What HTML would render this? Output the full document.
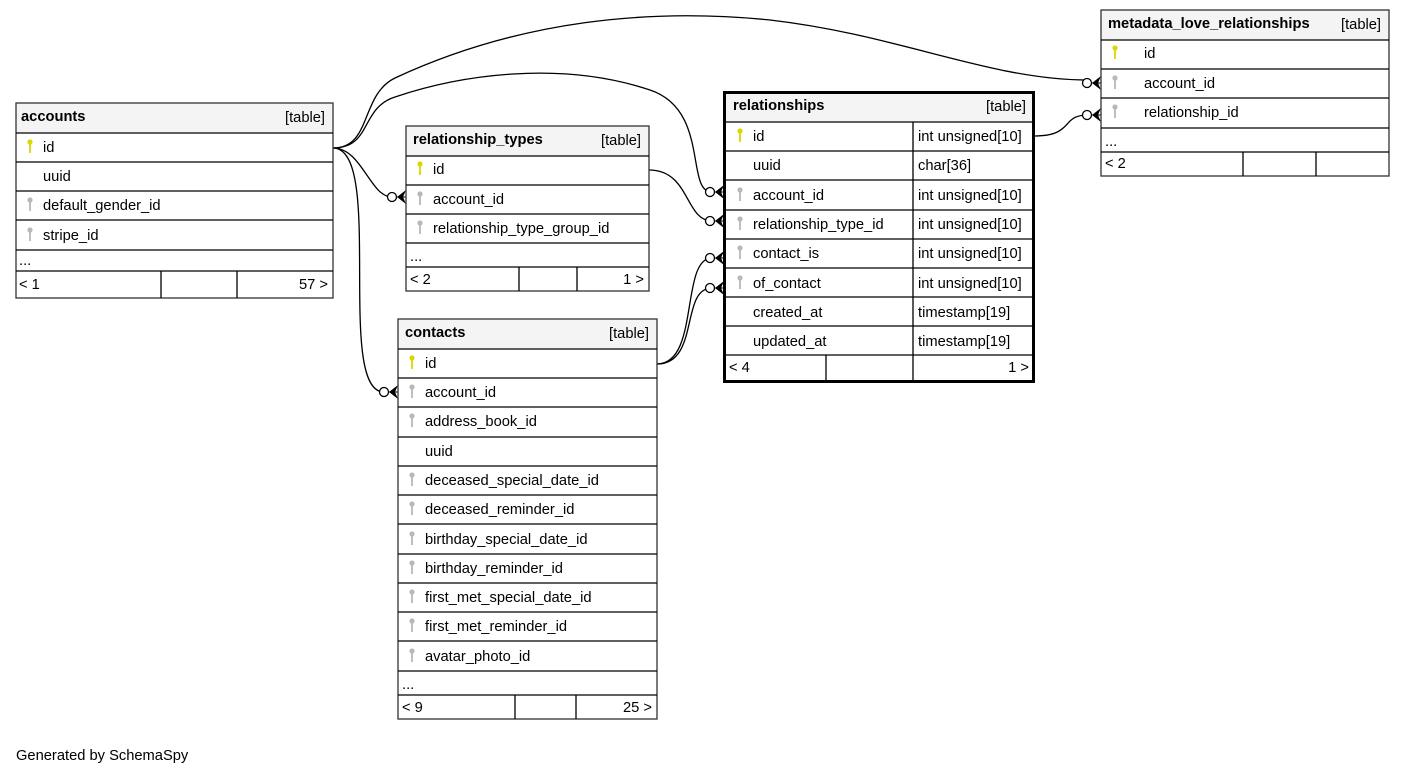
<!DOCTYPE html>
<html><head><meta charset="utf-8"><style>
body{margin:0;background:#fff;width:1405px;height:775px;overflow:hidden}
svg text{font-family:"Liberation Sans",sans-serif;font-size:14.7px;fill:#000}
.b{font-weight:bold}
.hd{fill:#f4f4f4}
.ln{stroke:#000;stroke-width:1.3;fill:none}
</style></head><body>
<svg width="1405" height="775" xmlns="http://www.w3.org/2000/svg">
<defs>
<g id="kp"><circle cx="0" cy="-4" r="2.6" fill="#d8d800"/><rect x="-0.9" y="-3" width="1.8" height="10" fill="#d8d800"/></g>
<g id="kf"><circle cx="0" cy="-4" r="2.6" fill="#b8b8b8"/><rect x="-0.9" y="-3" width="1.8" height="10" fill="#b8b8b8"/></g>
<g id="cf"><circle cx="-14" cy="0" r="4.5" fill="#fff" stroke="#000" stroke-width="1.3"/><polygon points="-9,0 0,-7 -3,0 0,7" fill="#000"/><line x1="-9" y1="0" x2="0" y2="0" stroke="#000"/></g>
</defs>

<path class="ln" d="M333,148 C372,148 360,95 395,78 C520,20 650,8 770,20 C900,35 990,80 1088,80"/>
<path class="ln" d="M333,148 C372,148 360,108 395,97 C460,75 560,60 650,90 C710,110 685,192 712,192"/>
<path class="ln" d="M333,148 C362,148 370,197 392,197"/>
<path class="ln" d="M333,148 C385,148 335,392 384,392"/>
<path class="ln" d="M649,170 C690,170 685,221 712,221"/>
<path class="ln" d="M657,364 C700,364 680,258 712,258"/>
<path class="ln" d="M657,364 C700,364 680,288 712,288"/>
<path class="ln" d="M1034,136 C1075,136 1060,115 1088,115"/>
<use href="#cf" x="1101" y="83"/>
<use href="#cf" x="1101" y="115"/>
<use href="#cf" x="724" y="192"/>
<use href="#cf" x="724" y="221"/>
<use href="#cf" x="724" y="258"/>
<use href="#cf" x="724" y="288"/>
<use href="#cf" x="406" y="197"/>
<use href="#cf" x="398" y="392"/>

<g>
<rect x="16" y="103" width="317" height="30" class="hd"/>
<rect x="16" y="103" width="317" height="195" fill="none" stroke="#333" stroke-width="1.3"/>
<g stroke="#000" stroke-width="1.3"><line x1="16" y1="133" x2="333" y2="133"/><line x1="16" y1="162" x2="333" y2="162"/><line x1="16" y1="191" x2="333" y2="191"/><line x1="16" y1="220" x2="333" y2="220"/><line x1="16" y1="250" x2="333" y2="250"/><line x1="16" y1="271" x2="333" y2="271"/><line x1="161" y1="271" x2="161" y2="298"/><line x1="237" y1="271" x2="237" y2="298"/></g>
<text x="21" y="121" class="b">accounts</text><text x="325" y="122" text-anchor="end">[table]</text>
<use href="#kp" x="30" y="146"/><text x="43" y="152">id</text>
<text x="43" y="181">uuid</text>
<use href="#kf" x="30" y="204"/><text x="43" y="210">default_gender_id</text>
<use href="#kf" x="30" y="234"/><text x="43" y="240">stripe_id</text>
<text x="19" y="265">...</text>
<text x="19" y="289">&lt; 1</text><text x="328" y="289" text-anchor="end">57 &gt;</text>
</g>

<g>
<rect x="406" y="126" width="243" height="30" class="hd"/>
<rect x="406" y="126" width="243" height="165" fill="none" stroke="#333" stroke-width="1.3"/>
<g stroke="#000" stroke-width="1.3"><line x1="406" y1="156" x2="649" y2="156"/><line x1="406" y1="185" x2="649" y2="185"/><line x1="406" y1="214" x2="649" y2="214"/><line x1="406" y1="243" x2="649" y2="243"/><line x1="406" y1="267" x2="649" y2="267"/><line x1="519" y1="267" x2="519" y2="291"/><line x1="577" y1="267" x2="577" y2="291"/></g>
<text x="413" y="144" class="b">relationship_types</text><text x="641" y="145" text-anchor="end">[table]</text>
<use href="#kp" x="420" y="168"/><text x="433" y="174">id</text>
<use href="#kf" x="420" y="198"/><text x="433" y="204">account_id</text>
<use href="#kf" x="420" y="227"/><text x="433" y="233">relationship_type_group_id</text>
<text x="410" y="261">...</text>
<text x="410" y="284">&lt; 2</text><text x="644" y="284" text-anchor="end">1 &gt;</text>
</g>

<g>
<rect x="398" y="319" width="259" height="30" class="hd"/>
<rect x="398" y="319" width="259" height="400" fill="none" stroke="#333" stroke-width="1.3"/>
<g stroke="#000" stroke-width="1.3">
<line x1="398" y1="349" x2="657" y2="349"/><line x1="398" y1="378" x2="657" y2="378"/><line x1="398" y1="407" x2="657" y2="407"/><line x1="398" y1="437" x2="657" y2="437"/><line x1="398" y1="466" x2="657" y2="466"/><line x1="398" y1="495" x2="657" y2="495"/><line x1="398" y1="524" x2="657" y2="524"/><line x1="398" y1="554" x2="657" y2="554"/><line x1="398" y1="583" x2="657" y2="583"/><line x1="398" y1="612" x2="657" y2="612"/><line x1="398" y1="641" x2="657" y2="641"/><line x1="398" y1="671" x2="657" y2="671"/><line x1="398" y1="695" x2="657" y2="695"/><line x1="515" y1="695" x2="515" y2="719"/><line x1="576" y1="695" x2="576" y2="719"/></g>
<text x="405" y="337" class="b">contacts</text><text x="649" y="338" text-anchor="end">[table]</text>
<use href="#kp" x="412" y="362"/><text x="425" y="368">id</text>
<use href="#kf" x="412" y="391"/><text x="425" y="397">account_id</text>
<use href="#kf" x="412" y="420"/><text x="425" y="426">address_book_id</text>
<text x="425" y="456">uuid</text>
<use href="#kf" x="412" y="479"/><text x="425" y="485">deceased_special_date_id</text>
<use href="#kf" x="412" y="508"/><text x="425" y="514">deceased_reminder_id</text>
<use href="#kf" x="412" y="538"/><text x="425" y="544">birthday_special_date_id</text>
<use href="#kf" x="412" y="567"/><text x="425" y="573">birthday_reminder_id</text>
<use href="#kf" x="412" y="596"/><text x="425" y="602">first_met_special_date_id</text>
<use href="#kf" x="412" y="625"/><text x="425" y="631">first_met_reminder_id</text>
<use href="#kf" x="412" y="655"/><text x="425" y="661">avatar_photo_id</text>
<text x="402" y="689">...</text>
<text x="402" y="712">&lt; 9</text><text x="652" y="712" text-anchor="end">25 &gt;</text>
</g>

<g>
<rect x="724" y="92" width="310" height="30" class="hd"/>
<g stroke="#000" stroke-width="1.3">
<line x1="724" y1="122" x2="1034" y2="122"/><line x1="724" y1="151" x2="1034" y2="151"/><line x1="724" y1="180" x2="1034" y2="180"/><line x1="724" y1="210" x2="1034" y2="210"/><line x1="724" y1="239" x2="1034" y2="239"/><line x1="724" y1="268" x2="1034" y2="268"/><line x1="724" y1="297" x2="1034" y2="297"/><line x1="724" y1="326" x2="1034" y2="326"/><line x1="724" y1="355" x2="1034" y2="355"/><line x1="913" y1="122" x2="913" y2="382"/><line x1="826" y1="355" x2="826" y2="382"/></g>
<rect x="724.5" y="92.5" width="309" height="289" fill="none" stroke="#000" stroke-width="3"/>
<text x="733" y="110" class="b">relationships</text><text x="1026" y="111" text-anchor="end">[table]</text>
<use href="#kp" x="740" y="135"/><text x="753" y="141">id</text><text x="918" y="141">int unsigned[10]</text>
<text x="753" y="170">uuid</text><text x="918" y="170">char[36]</text>
<use href="#kf" x="740" y="194"/><text x="753" y="200">account_id</text><text x="918" y="200">int unsigned[10]</text>
<use href="#kf" x="740" y="223"/><text x="753" y="229">relationship_type_id</text><text x="918" y="229">int unsigned[10]</text>
<use href="#kf" x="740" y="252"/><text x="753" y="258">contact_is</text><text x="918" y="258">int unsigned[10]</text>
<use href="#kf" x="740" y="282"/><text x="753" y="288">of_contact</text><text x="918" y="288">int unsigned[10]</text>
<text x="753" y="317">created_at</text><text x="918" y="317">timestamp[19]</text>
<text x="753" y="346">updated_at</text><text x="918" y="346">timestamp[19]</text>
<text x="729" y="372">&lt; 4</text><text x="1029" y="372" text-anchor="end">1 &gt;</text>
</g>

<g>
<rect x="1101" y="10" width="288" height="30" class="hd"/>
<rect x="1101" y="10" width="288" height="166" fill="none" stroke="#333" stroke-width="1.3"/>
<g stroke="#000" stroke-width="1.3"><line x1="1101" y1="40" x2="1389" y2="40"/><line x1="1101" y1="69" x2="1389" y2="69"/><line x1="1101" y1="98" x2="1389" y2="98"/><line x1="1101" y1="128" x2="1389" y2="128"/><line x1="1101" y1="152" x2="1389" y2="152"/><line x1="1243" y1="152" x2="1243" y2="176"/><line x1="1316" y1="152" x2="1316" y2="176"/></g>
<text x="1108" y="28" class="b">metadata_love_relationships</text><text x="1381" y="29" text-anchor="end">[table]</text>
<use href="#kp" x="1115" y="52"/><text x="1144" y="58">id</text>
<use href="#kf" x="1115" y="82"/><text x="1144" y="88">account_id</text>
<use href="#kf" x="1115" y="111"/><text x="1144" y="117">relationship_id</text>
<text x="1105" y="146">...</text>
<text x="1105" y="168">&lt; 2</text>
</g>

<text x="16" y="760">Generated by SchemaSpy</text>
</svg>
</body></html>
